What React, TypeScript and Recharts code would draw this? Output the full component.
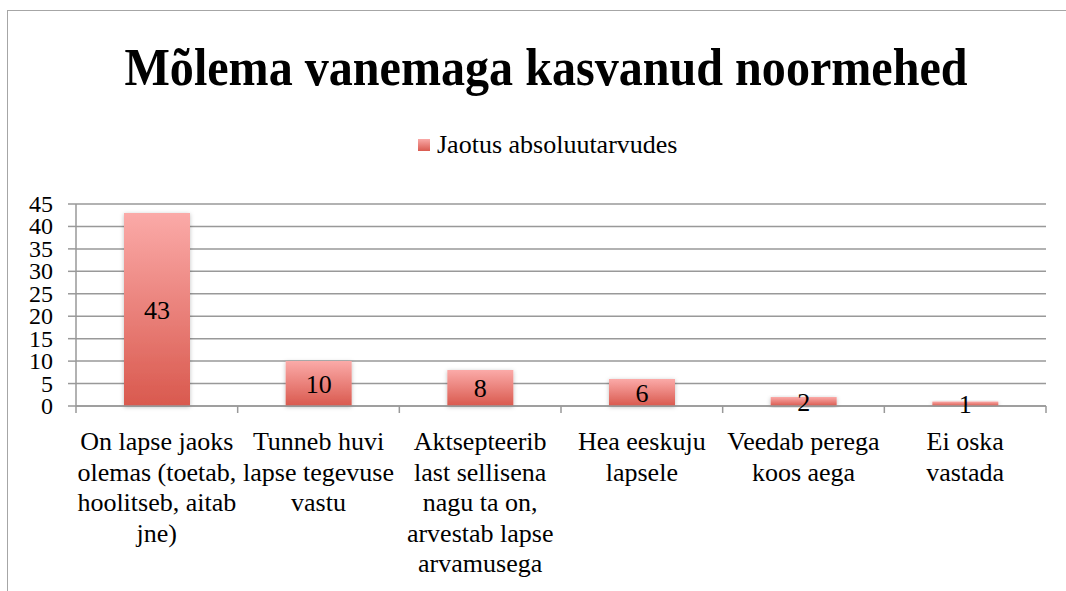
import React from 'react';
import { BarChart, Bar, XAxis, YAxis, CartesianGrid, LabelList } from 'recharts';

const title = 'Mõlema vanemaga kasvanud noormehed';
const seriesName = 'Jaotus absoluutarvudes';
const categories = [
  'On lapse jaoks\nolemas (toetab,\nhoolitseb, aitab\njne)',
  'Tunneb huvi\nlapse tegevuse\nvastu',
  'Aktsepteerib\nlast sellisena\nnagu ta on,\narvestab lapse\narvamusega',
  'Hea eeskuju\nlapsele',
  'Veedab perega\nkoos aega',
  'Ei oska\nvastada',
];
const values = [43, 10, 8, 6, 2, 1];
const yTicks = [0, 5, 10, 15, 20, 25, 30, 35, 40, 45];

const data = categories.map((c, i) => ({ name: c, value: values[i] }));

const FONT = "'Liberation Serif', 'Times New Roman', serif";

const CategoryTick = (props: any) => {
  const { x, y, payload, index, width, visibleTicksCount } = props;
  const count = visibleTicksCount || categories.length;
  const half = (width || 970) / count / 2;
  const lines = String(payload.value).split('\n');
  return (
    <g>
      <line x1={x - half} y1={y - 8} x2={x - half} y2={y - 1} stroke="#999" strokeWidth={1.5} />
      {index === count - 1 && (
        <line x1={x + half} y1={y - 8} x2={x + half} y2={y - 1} stroke="#999" strokeWidth={1.5} />
      )}
      <text x={x} y={y} textAnchor="middle" fontFamily={FONT} fontSize={26} fill="#000">
        {lines.map((l, i) => (
          <tspan key={i} x={x} dy={i === 0 ? 36 : 30.5}>
            {l}
          </tspan>
        ))}
      </text>
    </g>
  );
};

const YTick = (props: any) => {
  const { x, y, payload } = props;
  return (
    <text x={x} y={y} dy={8} textAnchor="end" fontFamily={FONT} fontSize={24} fill="#000">
      {payload.value}
    </text>
  );
};

export default function App() {
  return (
    <div style={{ position: 'absolute', left: 0, top: 0, width: 1066, height: 591, background: '#fff', overflow: 'hidden' }}>
      <div
        style={{
          position: 'absolute',
          left: 7,
          top: 10,
          width: 1100,
          height: 600,
          borderLeft: '1.5px solid #a6a6a6',
          borderTop: '1.5px solid #a6a6a6',
        }}
      />
      <div
        style={{
          position: 'absolute',
          left: 0,
          top: 38,
          width: 1092,
          textAlign: 'center',
          fontFamily: FONT,
          fontWeight: 'bold',
          fontSize: 52,
          lineHeight: '60px',
          transform: 'scaleX(0.925)',
          transformOrigin: '546px 0',
        }}
      >
        {title}
      </div>
      <div
        style={{
          position: 'absolute',
          left: 418,
          top: 130,
          display: 'flex',
          alignItems: 'center',
          fontFamily: FONT,
          fontSize: 26,
          lineHeight: '30px',
          whiteSpace: 'nowrap',
        }}
      >
        <span
          style={{
            display: 'inline-block',
            width: 12,
            height: 12,
            background: 'linear-gradient(#f9a9a7, #d95a50)',
            marginRight: 7,
          }}
        />
        <span>{seriesName}</span>
      </div>
      <div style={{ position: 'absolute', left: 0, top: 0 }}>
        <BarChart width={1066} height={591} data={data} margin={{ top: 204, right: 20, bottom: 0, left: 0 }}>
          <defs>
            <linearGradient id="barGrad" x1="0" y1="0" x2="0" y2="1">
              <stop offset="0%" stopColor="#fbaaa8" />
              <stop offset="100%" stopColor="#d9594e" />
            </linearGradient>
            <filter id="barShadow" x="-20%" y="-20%" width="140%" height="140%">
              <feDropShadow dx="0" dy="1" stdDeviation="2" floodColor="#000" floodOpacity="0.25" />
            </filter>
          </defs>
          <CartesianGrid vertical={false} stroke="#999" strokeWidth={1.5} />
          <XAxis
            dataKey="name"
            interval={0}
            tickLine={false}
            axisLine={{ stroke: '#999', strokeWidth: 1.5 }}
            tick={<CategoryTick />}
            height={185}
          />
          <YAxis
            width={76}
            domain={[0, 45]}
            ticks={yTicks}
            interval={0}
            tickSize={8}
            tickMargin={15}
            tickLine={{ stroke: '#999', strokeWidth: 1.5 }}
            axisLine={{ stroke: '#999', strokeWidth: 1.5 }}
            tick={<YTick />}
          />
          <Bar dataKey="value" name={seriesName} fill="url(#barGrad)" barSize={66} isAnimationActive={false} filter="url(#barShadow)">
            <LabelList dataKey="value" position="center" fill="#000" fontFamily={FONT} fontSize={26} />
          </Bar>
        </BarChart>
      </div>
    </div>
  );
}
